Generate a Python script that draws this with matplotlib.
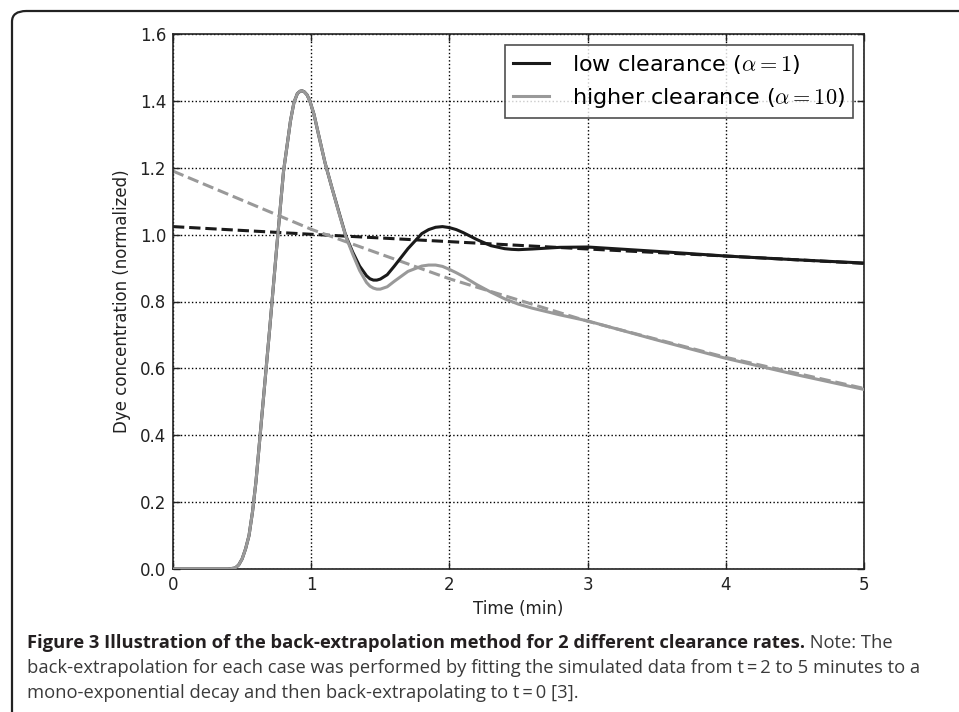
import matplotlib
matplotlib.use("Agg")
import matplotlib.pyplot as plt
from matplotlib.patches import FancyBboxPatch

# ---- data ----
time_min = [0.0, 0.40, 0.45, 0.475, 0.50, 0.525, 0.55, 0.575, 0.60, 0.65, 0.70, 0.75, 0.80,
            0.85, 0.875, 0.90, 0.92, 0.935, 0.95, 0.97, 0.99, 1.02, 1.05, 1.10, 1.15, 1.20,
            1.25, 1.30, 1.35, 1.40, 1.425, 1.45, 1.475, 1.50, 1.55, 1.60, 1.70, 1.80, 1.85,
            1.90, 1.95, 2.00, 2.05, 2.10, 2.20, 2.30, 2.40, 2.45, 2.50, 2.60, 2.80, 3.00,
            3.50, 4.00, 4.50, 5.00]
low_clearance = [0.0, 0.0, 0.003, 0.012, 0.03, 0.06, 0.10, 0.17, 0.26, 0.49, 0.72, 0.96, 1.19,
                 1.34, 1.395, 1.422, 1.429, 1.430, 1.427, 1.418, 1.400, 1.360, 1.305, 1.215,
                 1.140, 1.068, 0.997, 0.948, 0.906, 0.877, 0.868, 0.864, 0.864, 0.867, 0.880,
                 0.905, 0.958, 1.003, 1.015, 1.022, 1.024, 1.021, 1.015, 1.006, 0.985, 0.967,
                 0.958, 0.956, 0.955, 0.957, 0.962, 0.963, 0.950, 0.936, 0.925, 0.915]
high_clearance = [0.0, 0.0, 0.003, 0.012, 0.03, 0.06, 0.10, 0.17, 0.26, 0.49, 0.72, 0.96, 1.19,
                  1.34, 1.395, 1.422, 1.429, 1.430, 1.427, 1.418, 1.400, 1.360, 1.305, 1.215,
                  1.140, 1.066, 0.995, 0.942, 0.893, 0.857, 0.846, 0.840, 0.837, 0.837, 0.844,
                  0.860, 0.890, 0.906, 0.909, 0.909, 0.905, 0.896, 0.886, 0.875, 0.850, 0.828,
                  0.808, 0.800, 0.792, 0.780, 0.760, 0.742, 0.685, 0.630, 0.582, 0.537]
fit_time = [0.0, 1.0, 2.0, 3.0, 4.0, 5.0]
low_fit = [1.024, 1.001, 0.979, 0.957, 0.936, 0.914]
high_fit = [1.190, 1.016, 0.868, 0.741, 0.633, 0.540]

x_ticks = [0, 1, 2, 3, 4, 5]
y_ticks = [0.0, 0.2, 0.4, 0.6, 0.8, 1.0, 1.2, 1.4, 1.6]
legend_labels = [r"low clearance ($\alpha=1$)", r"higher clearance ($\alpha=10$)"]
caption_bold = "Figure 3 Illustration of the back-extrapolation method for 2 different clearance rates."
caption_rest = [" Note: The",
                "back-extrapolation for each case was performed by fitting the simulated data from t\u2009=\u20092 to 5 minutes to a",
                "mono-exponential decay and then back-extrapolating to t\u2009=\u20090 [3]."]

plt.rcParams["mathtext.fontset"] = "cm"
BLACK = "#1a1a1a"
GREY = "#999999"

fig = plt.figure(figsize=(9.59, 7.12), dpi=100)
fig.patch.set_facecolor("white")

# outer rounded frame (only top & left visible)
frame = FancyBboxPatch((12 / 959, -0.2), 1.2, (1 - 11 / 712) + 0.2,
                       boxstyle="round,pad=0,rounding_size=0.015",
                       transform=fig.transFigure, facecolor="none",
                       edgecolor="#222222", linewidth=1.6, clip_on=False)
fig.patches.append(frame)

ax = fig.add_axes([173 / 959, 1 - 569 / 712, (864 - 173) / 959, (569 - 34) / 712])

ax.plot(fit_time, low_fit, color=BLACK, lw=2.2, ls="--", zorder=2)
ax.plot(fit_time, high_fit, color=GREY, lw=2.2, ls="--", zorder=2)
ax.plot(time_min, low_clearance, color=BLACK, lw=2.2, label=legend_labels[0], zorder=3)
ax.plot(time_min, high_clearance, color=GREY, lw=2.2, label=legend_labels[1], zorder=4)

ax.set_xlim(0, 5)
ax.set_ylim(0, 1.6)
ax.set_xticks(x_ticks)
ax.set_yticks(y_ticks)
ax.set_xticklabels([str(v) for v in x_ticks])
ax.set_yticklabels([f"{v:.1f}" for v in y_ticks])
ax.grid(True, color="black", linestyle=":", linewidth=1.0)
ax.tick_params(direction="in", length=5, width=1, top=True, right=True,
               labelsize=12, colors="#222222", pad=5)
for s in ax.spines.values():
    s.set_linewidth(1.2)
    s.set_color("#222222")

ax.set_xlabel("Time (min)", fontsize=12, color="#222222", labelpad=4)
ax.set_ylabel("Dye concentration (normalized)", fontsize=12, color="#222222", labelpad=6)

leg = ax.legend(loc="upper right", fontsize=16, frameon=True, fancybox=False,
                handlelength=1.6, borderpad=0.36, labelspacing=0.45, handletextpad=1.05,
                borderaxespad=0.5)
leg.get_frame().set_edgecolor("#222222")
leg.get_frame().set_linewidth(1.2)

# caption
cap_font = "Open Sans"
cap_size = 13.2
x0 = 27 / 959
t1 = fig.text(x0, 1 - 643 / 712, caption_bold, fontsize=cap_size, fontweight="bold",
              family=cap_font, color="#231f20", va="center", ha="left")
fig.canvas.draw()
bb = t1.get_window_extent(renderer=fig.canvas.get_renderer())
fig.text(bb.x1 / fig.bbox.width, 1 - 643 / 712, caption_rest[0], fontsize=cap_size,
         family=cap_font, color="#3a3a3a", va="center", ha="left")
fig.text(x0, 1 - 668 / 712, caption_rest[1], fontsize=cap_size, family=cap_font,
         color="#3a3a3a", va="center", ha="left")
fig.text(x0, 1 - 693 / 712, caption_rest[2], fontsize=cap_size, family=cap_font,
         color="#3a3a3a", va="center", ha="left")

fig.savefig("out.png", dpi=100)
